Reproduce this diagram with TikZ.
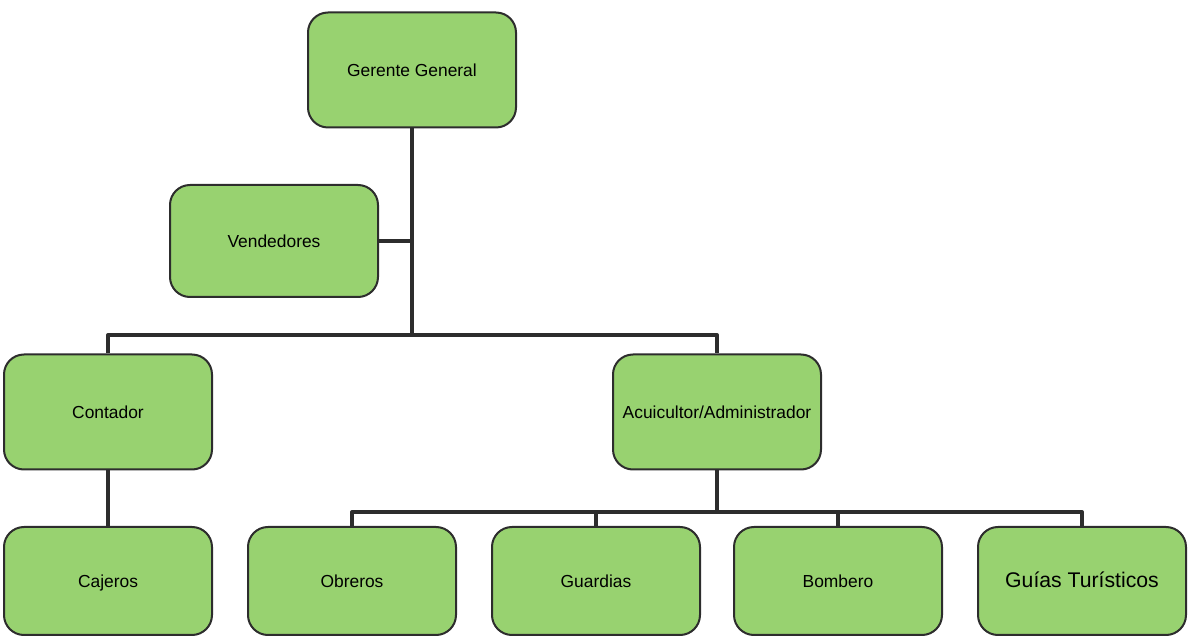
\documentclass[tikz,border=0pt]{standalone}
\usepackage{fontspec}
\setmainfont{Liberation Sans}
\definecolor{verde}{RGB}{152,210,112}
\definecolor{linea}{RGB}{45,45,45}
\tikzset{
	cargo/.style={draw=linea,line width=1pt,fill=verde,rounded corners=10pt,
		minimum width=104pt,minimum height=57.5pt,inner sep=2pt,text height=1.6ex,text depth=0.4ex,
		font=\fontsize{8.7}{10}\selectfont},
	cargob/.style={cargo,minimum height=54pt},
	rama/.style={draw=linea,line width=2pt}
}
\begin{document}
\begin{tikzpicture}[x=0.5pt,y=-0.5pt,line join=round]
			\useasboundingbox (0,0) rectangle (1191,636);
			\node[cargo] (gerente) at (412,70) {Gerente General};
			\node[cargo,minimum height=56pt] (vendedores) at (274,241) {Vendedores};
			\node[cargo] (contador) at (108,412) {Contador};
			\node[cargo] (acuicultor) at (717,412) {Acuicultor/Administrador};
			\node[cargob] (cajeros) at (108,581) {Cajeros};
			\node[cargob] (obreros) at (352,581) {Obreros};
			\node[cargob] (guardias) at (596,581) {Guardias};
			\node[cargob] (bombero) at (838,581) {Bombero};
			\node[cargob,font=\fontsize{10.6}{12}\selectfont] (guias) at (1082,581) {Guías Turísticos};
			\coordinate (bus1) at (412,335);
			\coordinate (bus2) at (717,512);
			\draw[rama] (gerente.south) -- (bus1);
			\draw[rama] (vendedores.east) -- (vendedores.east -| gerente.south);
			\draw[rama] (contador.north) |- (bus1) -| (acuicultor.north);
			\draw[rama] (contador.south) -- (cajeros.north);
			\foreach \n in {obreros,guardias,bombero,guias}
				\draw[rama] (acuicultor.south) -- (bus2) -| (\n.north);
		\end{tikzpicture}
\end{document}
